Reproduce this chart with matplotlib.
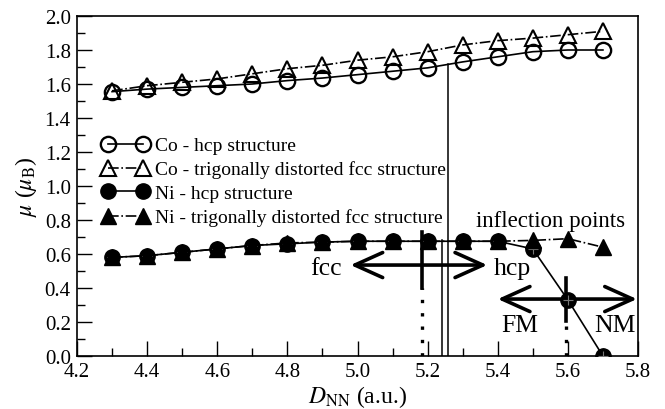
import matplotlib
matplotlib.use("Agg")
import matplotlib.pyplot as plt
from matplotlib.ticker import MultipleLocator

plt.rcParams['font.family'] = ['Liberation Serif', 'DejaVu Serif']
plt.rcParams['mathtext.fontset'] = 'stix'

d_nn = [4.3, 4.4, 4.5, 4.6, 4.7, 4.8, 4.9, 5.0, 5.1, 5.2, 5.3, 5.4, 5.5, 5.6, 5.7]
co_hcp = [1.555, 1.57, 1.58, 1.59, 1.60, 1.62, 1.635, 1.655, 1.675, 1.695, 1.73, 1.76, 1.79, 1.80, 1.80]
co_fcc = [1.56, 1.59, 1.61, 1.63, 1.66, 1.69, 1.71, 1.74, 1.76, 1.79, 1.83, 1.855, 1.87, 1.89, 1.91]
ni_hcp = [0.58, 0.59, 0.61, 0.63, 0.65, 0.66, 0.67, 0.675, 0.675, 0.675, 0.675, 0.675, 0.63, 0.33, 0.0]
ni_fcc = [0.58, 0.59, 0.61, 0.63, 0.65, 0.665, 0.67, 0.675, 0.675, 0.675, 0.675, 0.675, 0.68, 0.69, 0.64]

fig = plt.figure(figsize=(6.65, 4.10), dpi=100)
ax = fig.add_axes([77/665, 1-357/410, 561/665, 340/410])

ms = 11
ax.plot(d_nn, co_hcp, '-', color='k', lw=1.2, marker='o', ms=ms, mfc='none', mec='k', mew=1.7,
        label='Co - hcp structure', zorder=3)
ax.plot(d_nn, co_fcc, '-.', color='k', lw=1.2, marker='^', ms=ms, mfc='none', mec='k', mew=1.5,
        label='Co - trigonally distorted fcc structure', zorder=3)
ax.plot(d_nn, ni_hcp, '-', color='k', lw=1.2, marker='o', ms=ms, mfc='k', mec='k',
        label='Ni - hcp structure', zorder=3)
ax.plot(d_nn, ni_hcp, ls='none', marker='+', ms=7, mec='#777777', mew=0.8, zorder=3.5)
ax.plot(d_nn, ni_fcc, '-.', color='k', lw=1.2, marker='^', ms=ms, mfc='k', mec='k',
        label='Ni - trigonally distorted fcc structure', zorder=4)

# inflection lines
ax.plot([5.258, 5.258], [0, 1.715], color='k', lw=1.1, zorder=2)
ax.plot([5.24, 5.24], [0, 0.68], color='k', lw=1.1, zorder=2)
ax.plot([5.185, 5.185], [0.0, 0.40], color='k', lw=2.4, ls=(0, (1, 3)), zorder=2)
ax.plot([5.185, 5.185], [0.40, 0.73], color='k', lw=2.6, zorder=2)
ax.plot([5.595, 5.595], [0.0, 0.205], color='k', lw=2.4, ls=(0, (1, 3)), zorder=2)
ax.plot([5.595, 5.595], [0.205, 0.46], color='k', lw=2.6, zorder=2)

arrow = dict(arrowstyle='<->, head_length=1.0, head_width=0.45', lw=2.6, color='k',
             shrinkA=0, shrinkB=0, mutation_scale=20)
ax.annotate('', xy=(4.98, 0.535), xytext=(5.37, 0.535), arrowprops=arrow, zorder=2)
ax.annotate('', xy=(5.40, 0.335), xytext=(5.797, 0.335), arrowprops=arrow, zorder=2)

ax.text(4.955, 0.48, 'fcc', fontsize=18.5, ha='right', va='baseline')
ax.text(5.39, 0.48, 'hcp', fontsize=18.5, ha='left', va='baseline')
ax.text(5.41, 0.147, 'FM', fontsize=18.5, ha='left', va='baseline')
ax.text(5.792, 0.147, 'NM', fontsize=18.5, ha='right', va='baseline')
ax.text(5.55, 0.765, 'inflection points', fontsize=16.5, ha='center', va='baseline')

ax.set_xlim(4.2, 5.8)
ax.set_ylim(0.0, 2.0)
ax.xaxis.set_major_locator(MultipleLocator(0.2))
ax.xaxis.set_minor_locator(MultipleLocator(0.1))
ax.yaxis.set_major_locator(MultipleLocator(0.2))
ax.yaxis.set_minor_locator(MultipleLocator(0.1))
ax.xaxis.set_major_formatter(plt.FormatStrFormatter('%.1f'))
ax.yaxis.set_major_formatter(plt.FormatStrFormatter('%.1f'))
ax.tick_params(which='both', direction='in', top=False, right=False, labelsize=15, width=1.0)
ax.tick_params(which='major', length=11, pad=4.5)
ax.tick_params(which='minor', length=6)
for s in ax.spines.values():
    s.set_linewidth(1.2)

ax.set_xlabel(r'$D_{\mathrm{NN}}$ (a.u.)', fontsize=17, labelpad=1)
ax.set_ylabel(r'$\mu$ ($\mu_{\mathrm{B}}$)', fontsize=17, labelpad=4)

leg = ax.legend(loc='upper left', bbox_to_anchor=(0.044, 0.645), frameon=False, fontsize=14,
                numpoints=2, handlelength=2.4, handletextpad=0.35, labelspacing=0.32,
                borderaxespad=0.0, borderpad=0.0)

fig.savefig('out.png', dpi=100)
